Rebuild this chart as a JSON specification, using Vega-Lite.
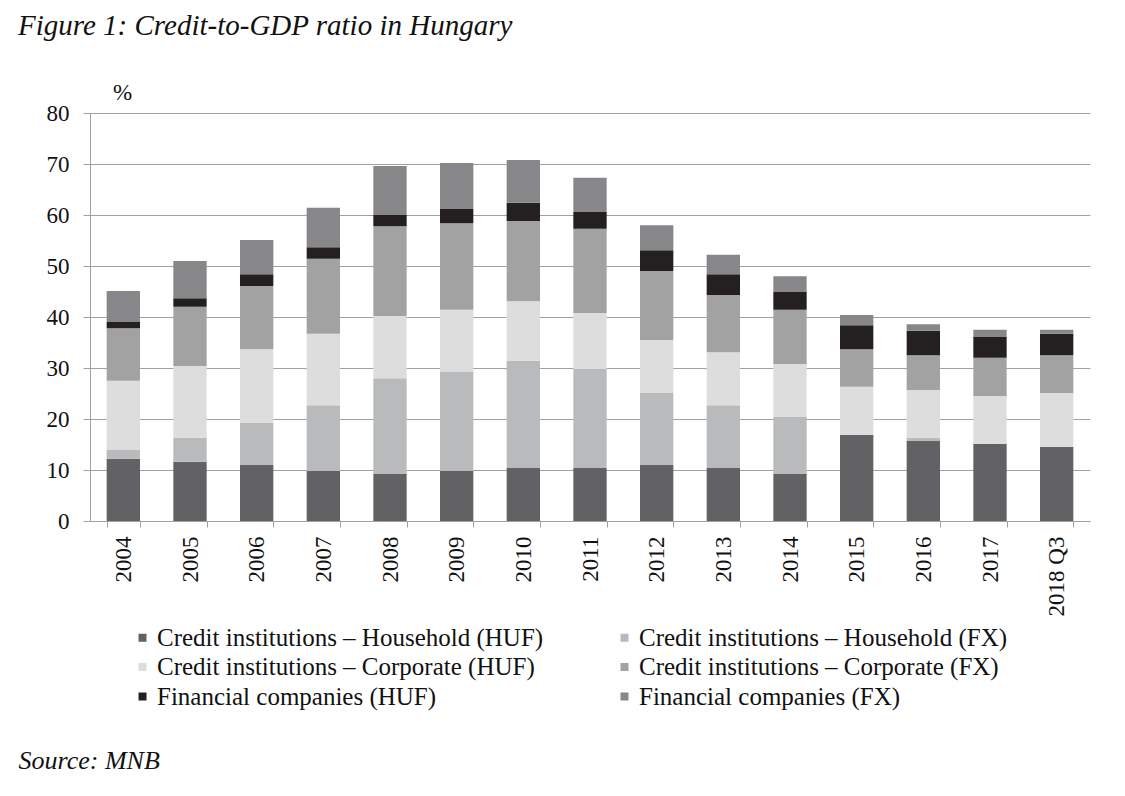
{
  "$schema": "https://vega.github.io/schema/vega-lite/v6.json",
  "autosize": "none",
  "width": 1000,
  "height": 408,
  "padding": {"left": 90, "top": 113, "right": 35, "bottom": 275},
  "background": "white",
  "title": {
    "text": "Figure 1: Credit-to-GDP ratio in Hungary",
    "anchor": "start",
    "frame": "group",
    "dx": -72,
    "offset": 40,
    "font": "Liberation Serif",
    "fontStyle": "italic",
    "fontWeight": "normal",
    "fontSize": 29,
    "color": "#111111"
  },
  "data": {
    "values": [
      {"year": "2004", "Credit institutions – Household (HUF)": 12.2, "Credit institutions – Household (FX)": 1.7, "Credit institutions – Corporate (HUF)": 13.6, "Credit institutions – Corporate (FX)": 10.3, "Financial companies (HUF)": 1.2, "Financial companies (FX)": 6.1},
      {"year": "2005", "Credit institutions – Household (HUF)": 11.6, "Credit institutions – Household (FX)": 4.7, "Credit institutions – Corporate (HUF)": 14.1, "Credit institutions – Corporate (FX)": 11.6, "Financial companies (HUF)": 1.7, "Financial companies (FX)": 7.3},
      {"year": "2006", "Credit institutions – Household (HUF)": 11.0, "Credit institutions – Household (FX)": 8.2, "Credit institutions – Corporate (HUF)": 14.5, "Credit institutions – Corporate (FX)": 12.4, "Financial companies (HUF)": 2.3, "Financial companies (FX)": 6.7},
      {"year": "2007", "Credit institutions – Household (HUF)": 9.8, "Credit institutions – Household (FX)": 12.9, "Credit institutions – Corporate (HUF)": 14.0, "Credit institutions – Corporate (FX)": 14.7, "Financial companies (HUF)": 2.3, "Financial companies (FX)": 7.7},
      {"year": "2008", "Credit institutions – Household (HUF)": 9.2, "Credit institutions – Household (FX)": 18.8, "Credit institutions – Corporate (HUF)": 12.2, "Credit institutions – Corporate (FX)": 17.6, "Financial companies (HUF)": 2.2, "Financial companies (FX)": 9.6},
      {"year": "2009", "Credit institutions – Household (HUF)": 9.8, "Credit institutions – Household (FX)": 19.4, "Credit institutions – Corporate (HUF)": 12.2, "Credit institutions – Corporate (FX)": 17.0, "Financial companies (HUF)": 2.8, "Financial companies (FX)": 9.0},
      {"year": "2010", "Credit institutions – Household (HUF)": 10.4, "Credit institutions – Household (FX)": 21.0, "Credit institutions – Corporate (HUF)": 11.7, "Credit institutions – Corporate (FX)": 15.7, "Financial companies (HUF)": 3.6, "Financial companies (FX)": 8.4},
      {"year": "2011", "Credit institutions – Household (HUF)": 10.4, "Credit institutions – Household (FX)": 19.4, "Credit institutions – Corporate (HUF)": 11.0, "Credit institutions – Corporate (FX)": 16.5, "Financial companies (HUF)": 3.3, "Financial companies (FX)": 6.7},
      {"year": "2012", "Credit institutions – Household (HUF)": 11.0, "Credit institutions – Household (FX)": 14.1, "Credit institutions – Corporate (HUF)": 10.4, "Credit institutions – Corporate (FX)": 13.5, "Financial companies (HUF)": 4.1, "Financial companies (FX)": 4.9},
      {"year": "2013", "Credit institutions – Household (HUF)": 10.4, "Credit institutions – Household (FX)": 12.3, "Credit institutions – Corporate (HUF)": 10.4, "Credit institutions – Corporate (FX)": 11.2, "Financial companies (HUF)": 4.1, "Financial companies (FX)": 3.8},
      {"year": "2014", "Credit institutions – Household (HUF)": 9.2, "Credit institutions – Household (FX)": 11.2, "Credit institutions – Corporate (HUF)": 10.4, "Credit institutions – Corporate (FX)": 10.6, "Financial companies (HUF)": 3.5, "Financial companies (FX)": 3.1},
      {"year": "2015", "Credit institutions – Household (HUF)": 16.9, "Credit institutions – Household (FX)": 0.0, "Credit institutions – Corporate (HUF)": 9.4, "Credit institutions – Corporate (FX)": 7.4, "Financial companies (HUF)": 4.7, "Financial companies (FX)": 2.0},
      {"year": "2016", "Credit institutions – Household (HUF)": 15.7, "Credit institutions – Household (FX)": 0.6, "Credit institutions – Corporate (HUF)": 9.4, "Credit institutions – Corporate (FX)": 6.8, "Financial companies (HUF)": 4.8, "Financial companies (FX)": 1.3},
      {"year": "2017", "Credit institutions – Household (HUF)": 15.1, "Credit institutions – Household (FX)": 0.0, "Credit institutions – Corporate (HUF)": 9.4, "Credit institutions – Corporate (FX)": 7.5, "Financial companies (HUF)": 4.1, "Financial companies (FX)": 1.4},
      {"year": "2018 Q3", "Credit institutions – Household (HUF)": 14.5, "Credit institutions – Household (FX)": 0.0, "Credit institutions – Corporate (HUF)": 10.6, "Credit institutions – Corporate (FX)": 7.4, "Financial companies (HUF)": 4.2, "Financial companies (FX)": 0.8}
    ]
  },
  "transform": [
    {
      "fold": [
        "Credit institutions – Household (HUF)",
        "Credit institutions – Household (FX)",
        "Credit institutions – Corporate (HUF)",
        "Credit institutions – Corporate (FX)",
        "Financial companies (HUF)",
        "Financial companies (FX)"
      ],
      "as": ["series", "value"]
    },
    {
      "window": [{"op": "row_number", "as": "stackOrder"}],
      "groupby": ["year"]
    }
  ],
  "mark": {"type": "bar"},
  "encoding": {
    "x": {
      "field": "year",
      "type": "ordinal",
      "scale": {"paddingInner": 0.5, "paddingOuter": 0.25},
      "axis": {
        "title": "Source: MNB",
        "titleX": -72,
        "titleY": 247,
        "titleAlign": "left",
        "titleAnchor": "start",
        "titleBaseline": "alphabetic",
        "titleFont": "Liberation Serif",
        "titleFontStyle": "italic",
        "titleFontWeight": "normal",
        "titleFontSize": 26,
        "titleColor": "#111111",
        "labelAngle": -90,
        "labelAlign": "right",
        "labelBaseline": "middle",
        "labelPadding": 9,
        "labelFont": "Liberation Serif",
        "labelFontSize": 23,
        "labelColor": "#111111",
        "tickBand": "extent",
        "tickSize": 6,
        "tickColor": "#a0a0a0",
        "domainColor": "#a0a0a0",
        "grid": false
      }
    },
    "y": {
      "field": "value",
      "type": "quantitative",
      "stack": "zero",
      "scale": {"domain": [0, 80], "nice": false},
      "axis": {
        "title": "%",
        "titleAngle": 0,
        "titleX": 32,
        "titleY": -14,
        "titleAlign": "center",
        "titleBaseline": "alphabetic",
        "titleFont": "Liberation Serif",
        "titleFontWeight": "normal",
        "titleFontSize": 23,
        "titleColor": "#111111",
        "values": [0, 10, 20, 30, 40, 50, 60, 70, 80],
        "labelFont": "Liberation Serif",
        "labelFontSize": 23,
        "labelColor": "#111111",
        "labelPadding": 14,
        "tickSize": 7,
        "tickColor": "#a0a0a0",
        "domainColor": "#a0a0a0",
        "grid": true,
        "gridColor": "#a0a0a0"
      }
    },
    "order": {"field": "stackOrder", "type": "quantitative", "sort": "ascending"},
    "color": {
      "field": "series",
      "type": "nominal",
      "sort": [
        "Credit institutions – Household (HUF)",
        "Credit institutions – Household (FX)",
        "Credit institutions – Corporate (HUF)",
        "Credit institutions – Corporate (FX)",
        "Financial companies (HUF)",
        "Financial companies (FX)"
      ],
      "scale": {
        "domain": [
          "Credit institutions – Household (HUF)",
          "Credit institutions – Household (FX)",
          "Credit institutions – Corporate (HUF)",
          "Credit institutions – Corporate (FX)",
          "Financial companies (HUF)",
          "Financial companies (FX)"
        ],
        "range": ["#626264", "#b9babb", "#dddddd", "#a2a2a3", "#241f21", "#87878a"]
      },
      "legend": {
        "title": null,
        "orient": "none",
        "direction": "horizontal",
        "legendX": 40,
        "legendY": 512,
        "padding": 0,
        "columns": 2,
        "columnPadding": 68,
        "rowPadding": 3.5,
        "symbolType": "square",
        "symbolSize": 64,
        "symbolStrokeWidth": 0,
        "labelFont": "Liberation Serif",
        "labelFontSize": 25,
        "labelColor": "#111111",
        "labelOffset": 2,
        "labelLimit": 500
      }
    }
  },
  "config": {
    "view": {"stroke": null}
  }
}
